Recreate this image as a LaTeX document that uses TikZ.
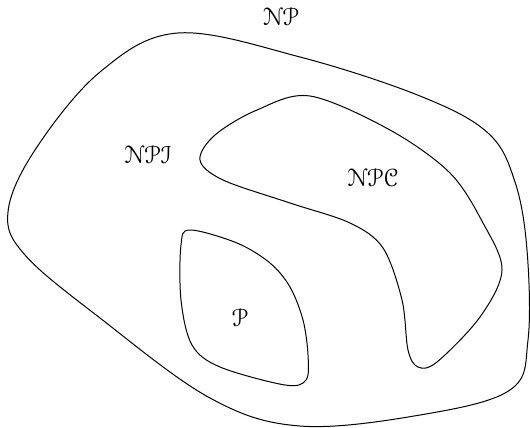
\documentclass[tikz,border=0pt]{standalone}
\usepackage[mathcal]{euscript}
\usepackage{graphicx}
\newcommand{\bigcal}[1]{\scalebox{2.5}{$\mathcal{#1}$}}
\begin{document}
\begin{tikzpicture}[x=1pt,y=-1pt,
  region/.style={draw=black,line width=1pt},
  lbl/.style={inner sep=0pt}]
\useasboundingbox (0,0) rectangle (530,428);
% NP outer
\draw[region] plot[smooth cycle,tension=0.6] coordinates {
 (8,212) (35,150) (100,72) (178,33) (300,57) (420,96) (488,133)
 (515,182) (527,250) (528,340) (510,390) (420,415) (300,426)
 (210,398) (100,318) (25,255)};
% NPC
\draw[region] plot[smooth cycle,tension=0.55] coordinates {
 (200,160) (215,135) (257,110) (310,96) (390,130) (450,173)
 (483,223) (502,270) (480,317) (437,362) (418,367) (408,350)
 (402,300) (383,248) (350,223) (290,203) (223,180)};
% P
\draw[region] plot[smooth cycle,tension=0.55] coordinates {
 (190,230) (237,243) (270,263) (290,287) (303,320) (308,355)
 (306,380) (285,385) (220,367) (192,345) (181,300) (181,245)};
\node[lbl] (np) at (281,17) {\bigcal{NP}};
\node[lbl] (npi) at (148,155) {\bigcal{NPI}};
\node[lbl] (npc) at (373,178) {\bigcal{NPC}};
\node[lbl] (p) at (240,318) {\bigcal{P}};
\end{tikzpicture}
\end{document}
